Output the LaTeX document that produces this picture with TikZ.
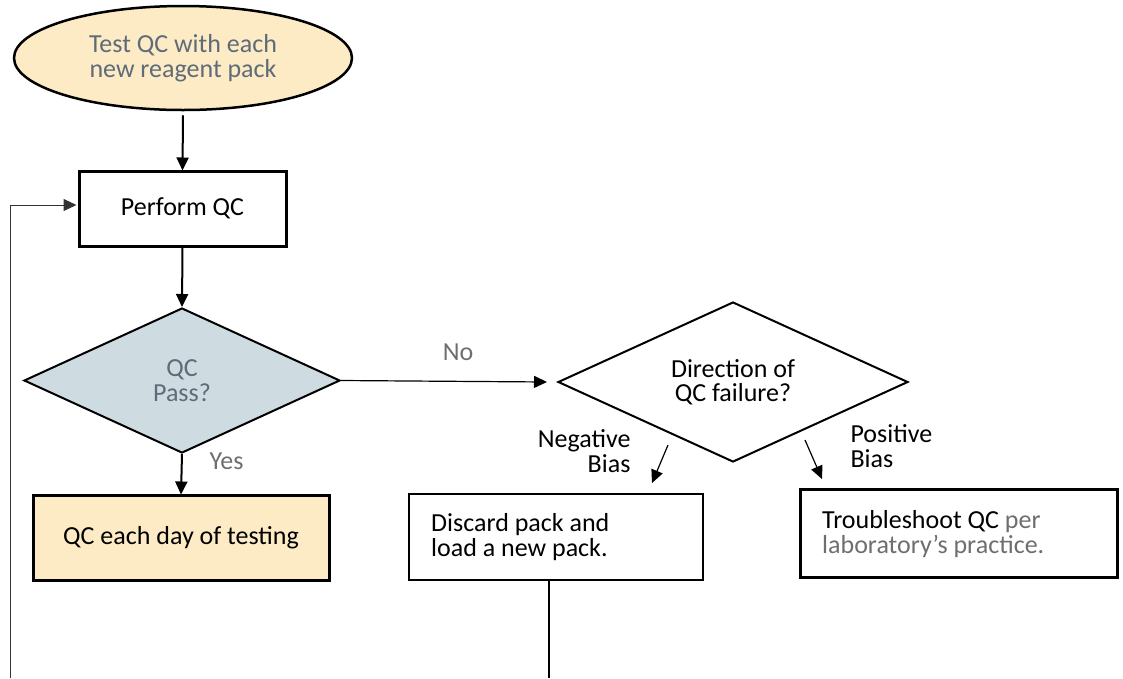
\documentclass[tikz,border=0pt]{standalone}
\usepackage{fontspec}
\setmainfont{Carlito}
\usetikzlibrary{shapes.geometric,arrows.meta,calc}
\definecolor{beige}{HTML}{FDEBC6}
\definecolor{dfill}{HTML}{CEDCE1}
\definecolor{gtext}{HTML}{5E6B78}
\definecolor{ltext}{HTML}{6E6E6E}
\definecolor{fbline}{HTML}{333333}
\begin{document}
\begin{tikzpicture}[x=1pt,y=1pt,
  every node/.style={font=\fontsize{26}{24.5}\selectfont},
  thickbox/.style={draw, line width=3pt, rectangle, inner sep=0pt},
  thinbox/.style={draw, line width=2pt, rectangle, inner sep=0pt},
  arr/.style={line width=2pt, -{Triangle[length=13pt,width=12pt]}},
  thinarr/.style={line width=1.2pt, -{Triangle[length=13pt,width=12pt]}},
  lbl/.style={text=ltext}
]
\useasboundingbox (0,0) rectangle (1123,-678);
\node[ellipse, draw, line width=2.5pt, fill=beige, minimum width=338pt, minimum height=104pt, inner sep=0pt, align=center, text=gtext] (ell) at (183,-58) {Test QC with each\\new reagent pack};
\node[thickbox, minimum width=207pt, minimum height=75pt] (perf) at (182.5,-208.5) {Perform QC};
\node[diamond, shape aspect=2.2, draw, line width=2pt, fill=dfill, minimum width=316pt, minimum height=145pt, inner sep=0pt, align=center, text=gtext] (pass) at (182,-380.5) {QC\\Pass?};
\node[thickbox, fill=beige, minimum width=296pt, minimum height=85pt] (day) at (181,-537.5) {QC each day of testing};
\node[diamond, shape aspect=2.2, draw, line width=2pt, minimum width=350pt, minimum height=160pt, inner sep=0pt, align=center] (dir) at (733,-382) {Direction of\\QC failure?};
\node[thinbox, minimum width=294pt, minimum height=86pt] (disc) at (556,-537) {};
\node[anchor=west, align=left, inner sep=0pt] (disctext) at (431,-537) {Discard pack and\\load a new pack.};
\node[thickbox, minimum width=317pt, minimum height=88pt] (trou) at (958.5,-533) {};
\node[anchor=west, align=left, inner sep=0pt] (troutext) at (822,-534) {Troubleshoot QC \textcolor{ltext}{per}\\\textcolor{ltext}{laboratory’s practice.}};

\node[lbl, anchor=west] (yes) at (206,-461) {Yes};
\node[lbl] (no) at (458,-352) {No};
\node[anchor=east, align=right] (neg) at (634,-451) {Negative\\Bias};
\node[anchor=west, align=left] (pos) at (847,-446) {Positive\\Bias};

\coordinate (n1) at (668,-445);
\coordinate (n2) at (652,-483);
\coordinate (p1) at (805,-440);
\coordinate (p2) at (822,-479);
\coordinate (fb) at (10,-678);
\coordinate (db) at (549,-678);

\draw[arr] ($(ell.south)+(0,-4)$) -- ($(perf.north)+(0,-1)$);
\draw[arr] (perf.south) -- (pass.north);
\draw[arr] (pass.south) -- ($(day.north)+(0,-1)$);
\draw[thinarr] (pass.east) -- ($(dir.west)+(-10,0)$);
\draw[thinarr] (n1) -- (n2);
\draw[thinarr] (p1) -- (p2);
\draw[fbline, line width=1pt, -{Triangle[length=13pt,width=12pt]}] (fb) -- (10,-205) -- ($(perf.west)+(-1,3.5)$);
\draw[line width=2pt] (disc.south -| db) -- (db);
\end{tikzpicture}
\end{document}
